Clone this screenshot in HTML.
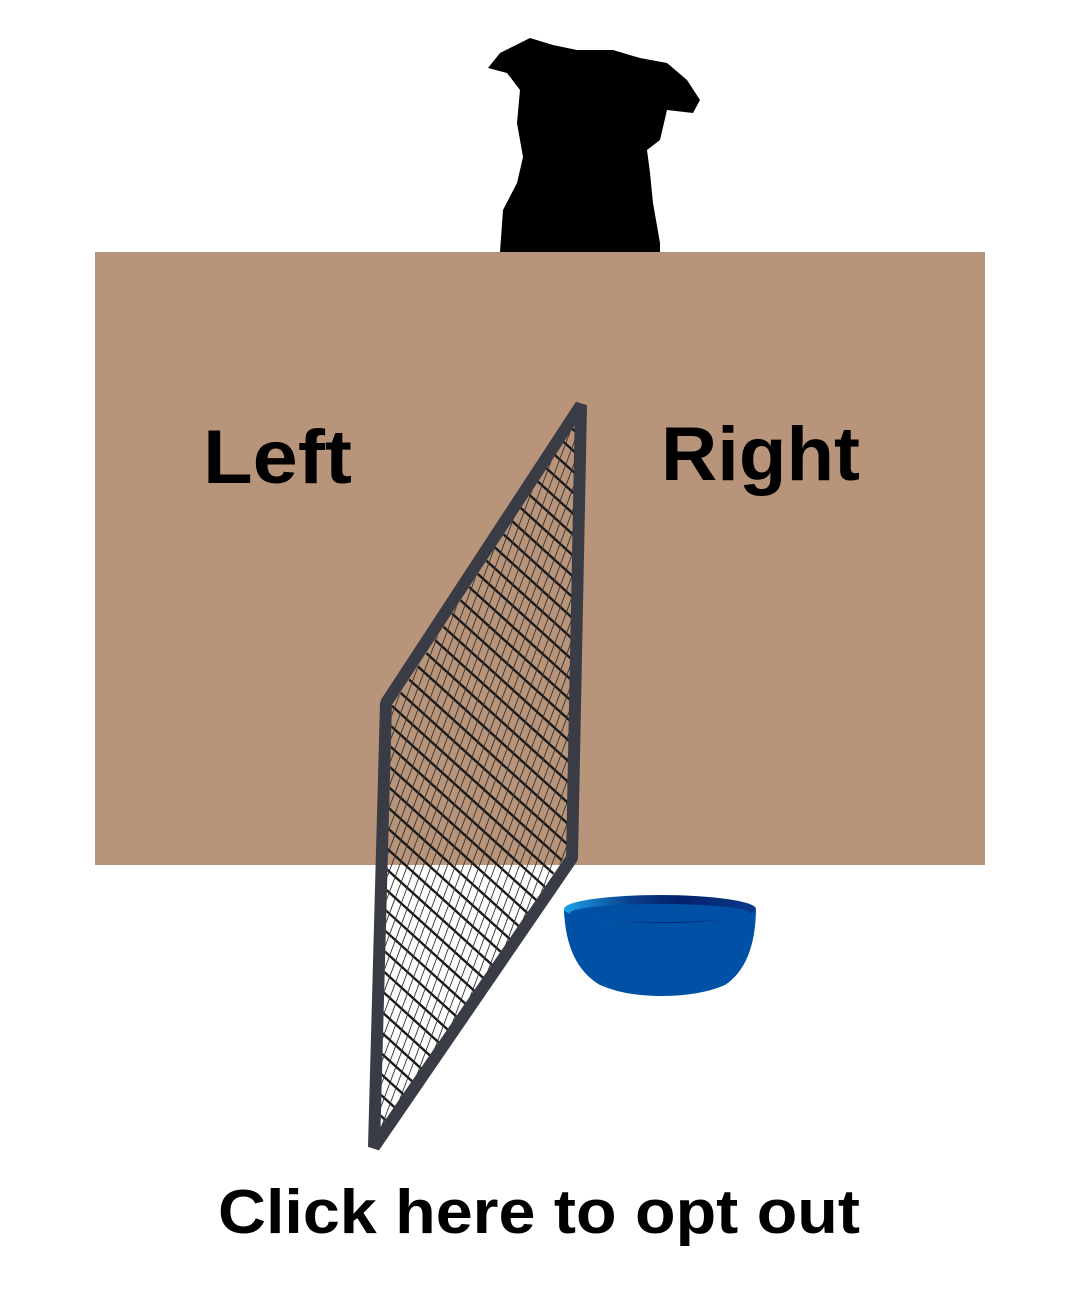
<!DOCTYPE html>
<html><head><meta charset="utf-8"><style>
html,body{margin:0;padding:0;background:#fff;width:1080px;height:1289px;overflow:hidden}
svg{display:block;position:absolute;left:0;top:0}
text{font-family:"Liberation Sans",sans-serif;font-weight:bold;fill:#000}
</style></head><body>
<svg width="1080" height="1289" viewBox="0 0 1080 1289">
<defs>
<clipPath id="meshclip"><polygon points="392,706 578,420 567,853 380,1140"/></clipPath>
<linearGradient id="rimg" x1="0" x2="1" y1="0" y2="0">
<stop offset="0" stop-color="#1aa0e8"/><stop offset="0.35" stop-color="#0a3e8c"/><stop offset="0.6" stop-color="#04206a"/><stop offset="1" stop-color="#0a3a8a"/>
</linearGradient>
</defs>
<rect x="95" y="252" width="890" height="613" fill="#b8957a"/>
<path fill="#000" d="M488,68 L500,53 L530,38 L553,45 L577,50 L613,50 L640,58 L667,63 L687,80 L700,100 L693,113 L667,110 L660,140 L647,150 L650,173 L653,203 L660,243 L660,252 L500,252 L503,210 L517,183 L523,157 L517,123 L520,90 L507,73 Z"/>
<text x="203" y="483" font-size="76" textLength="149" lengthAdjust="spacingAndGlyphs">Left</text>
<text x="661" y="480" font-size="76" textLength="199" lengthAdjust="spacingAndGlyphs">Right</text>
<g id="mesh" clip-path="url(#meshclip)"></g>
<polygon fill="none" stroke="#3a3c45" stroke-width="12" stroke-linejoin="bevel" points="386,703 581,405 572,858 374,1147"/>
<g>
<path d="M564,910 Q566,965 600,985 Q625,996 660,996 Q700,996 725,985 Q755,965 756,910 Z" fill="#0050a6"/>
<ellipse cx="660" cy="909" rx="96" ry="14" fill="url(#rimg)"/>
<ellipse cx="660" cy="913" rx="90" ry="9" fill="#0050a6"/>
</g>
<text x="218" y="1233" font-size="62" textLength="642" lengthAdjust="spacingAndGlyphs">Click here to opt out</text>
</svg>
<script>
const g=document.getElementById('mesh');
const NS='http://www.w3.org/2000/svg';
for(let i=-17;i<28;i++){
  const y0=560+i*21;
  const y2=Math.min(y0+209,1150);
  const x2=370+(y2-y0)*230/209;
  const l=document.createElementNS(NS,'line');
  
  
  l.setAttribute('x1',370);l.setAttribute('y1',y0);
  l.setAttribute('x2',x2);l.setAttribute('y2',y2);
  l.setAttribute('stroke','#1a1a1a');l.setAttribute('stroke-width','2.4');
  g.appendChild(l);
}
for(let i=-40;i<60;i++){
  const x0=480+i*8;
  const l=document.createElementNS(NS,'line');
  
  
  l.setAttribute('x1',x0-150);l.setAttribute('y1',1200);
  l.setAttribute('x2',x0+150);l.setAttribute('y2',400);
  l.setAttribute('stroke','#333');l.setAttribute('stroke-width','0.9');
  g.appendChild(l);
}
</script>
</body></html>
